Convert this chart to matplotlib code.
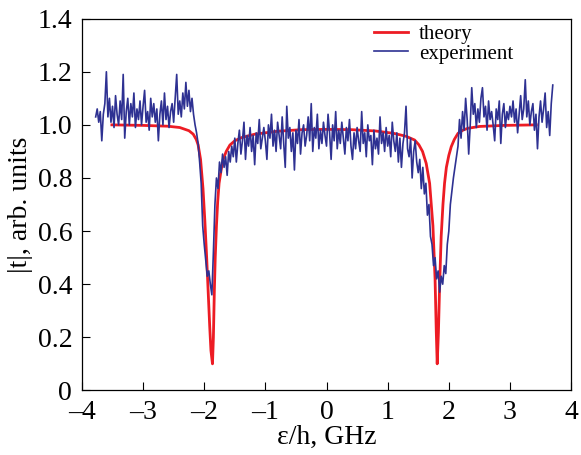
import numpy as np
import matplotlib
matplotlib.use('Agg')
import matplotlib.pyplot as plt

plt.rcParams['font.family'] = ['Liberation Serif', 'DejaVu Serif']

# theory curve
theory_x = [-3.51, -3.0, -2.6, -2.4, -2.25, -2.18, -2.13, -2.10, -2.06, -2.02,
            -1.99, -1.96, -1.935, -1.91, -1.89, -1.865, -1.85, -1.835, -1.82,
            -1.80, -1.78, -1.757, -1.72, -1.69, -1.64, -1.58, -1.5, -1.39,
            -1.17, -0.8, -0.4, 0.0, 0.4, 0.8, 1.1, 1.3, 1.44, 1.51, 1.57,
            1.63, 1.686, 1.74, 1.775, 1.795, 1.81, 1.83, 1.85, 1.875, 1.904,
            1.93, 1.96, 2.0, 2.04, 2.09, 2.15, 2.23, 2.31, 2.5, 2.9, 3.43]
theory_y = [1.0, 0.998, 0.995, 0.99, 0.978, 0.965, 0.945, 0.925, 0.87, 0.76,
            0.64, 0.5, 0.37, 0.24, 0.15, 0.10, 0.2, 0.37, 0.5, 0.62, 0.71,
            0.78, 0.835, 0.87, 0.9, 0.924, 0.94, 0.952, 0.965, 0.976, 0.982,
            0.983, 0.982, 0.977, 0.968, 0.957, 0.943, 0.925, 0.9, 0.855, 0.78,
            0.62, 0.42, 0.22, 0.10, 0.22, 0.4, 0.58, 0.70, 0.78, 0.84, 0.885,
            0.918, 0.945, 0.968, 0.98, 0.987, 0.994, 0.998, 1.0]

# experiment, 300 samples from -3.775 to 3.70 GHz
exp_start, exp_stop = -3.775, 3.70
exp_y = [
    1.03, 1.06, 1.01, 1.05, 0.94, 1.04, 1.08, 1.20, 1.03, 1.10,
    1.01, 1.07, 0.99, 1.11, 1.04, 1.00, 1.09, 1.02, 1.19, 0.95,
    1.05, 1.10, 1.00, 1.08, 1.03, 1.12, 0.99, 1.06, 1.02, 1.09,
    1.00, 1.07, 1.13, 1.01, 1.05, 0.98, 1.10, 1.03, 1.08, 1.01,
    1.06, 0.94, 1.04, 1.09, 1.00, 1.12, 1.02, 1.07, 0.99, 1.05,
    1.08, 1.01, 1.10, 1.19, 1.04, 1.09, 1.03, 1.12, 1.06, 1.16,
    1.07, 1.13, 1.05, 1.10, 1.04, 1.00, 0.97, 0.93, 0.86, 0.78,
    0.62, 0.55, 0.49, 0.43, 0.45, 0.40, 0.36, 0.52, 0.70, 0.80,
    0.76, 0.86, 0.82, 0.89, 0.84, 0.88, 0.81, 0.90, 0.86, 0.92,
    0.88, 0.95, 0.86, 0.93, 0.98, 0.89, 0.94, 1.01, 0.87, 0.96,
    0.92, 0.99, 0.90, 0.96, 0.85, 0.97, 0.93, 1.02, 0.91, 0.95,
    0.99, 0.94, 0.87, 1.00, 0.95, 1.04, 0.92, 0.98, 0.90, 1.01,
    0.96, 0.91, 1.03, 0.93, 0.84, 1.07, 0.95, 0.99, 0.90, 0.97,
    0.83, 0.98, 0.93, 1.02, 0.89, 0.97, 1.00, 0.92, 0.96, 1.03,
    0.94, 1.08, 0.90, 0.99, 0.95, 1.04, 0.91, 0.98, 0.93, 1.01,
    0.96, 0.92, 1.04, 0.97, 0.87, 1.00, 0.94, 1.05, 0.91, 0.98,
    0.93, 1.01, 0.95, 0.89, 0.99, 0.94, 1.02, 0.92, 0.87, 0.97,
    0.91, 0.99, 0.94, 0.90, 1.05, 0.93, 0.97, 0.88, 1.00, 0.94,
    0.96, 0.85, 0.98, 0.91, 0.95, 0.89, 1.03, 0.93, 0.97, 0.90,
    0.99, 0.92, 0.96, 0.88, 1.01, 0.94, 0.90, 0.97, 0.86, 0.95,
    0.84, 0.93, 0.97, 1.07, 0.91, 0.88, 0.95, 0.80, 0.90, 0.94,
    0.86, 0.82, 0.87, 0.76, 0.84, 0.74, 0.78, 0.66, 0.70, 0.58,
    0.55, 0.47, 0.50, 0.42, 0.45, 0.37, 0.43, 0.40, 0.47, 0.44,
    0.55, 0.60, 0.70, 0.75, 0.80, 0.84, 0.88, 0.92, 1.02, 0.95,
    1.05, 0.98, 1.10, 1.02, 0.89, 1.00, 1.14, 1.04, 1.08, 0.99,
    1.06, 1.01, 1.10, 1.14, 1.03, 1.07, 0.98, 1.09, 1.02, 1.05,
    1.00, 0.94, 1.06, 1.02, 1.09, 0.93, 1.04, 1.08, 0.99, 1.05,
    1.02, 1.07, 1.03, 1.09, 1.01, 1.06, 0.97, 1.04, 1.11, 1.02,
    1.06, 1.17, 1.03, 1.09, 1.00, 1.05, 1.08, 0.98, 1.04, 0.91,
    1.03, 1.09, 1.01, 1.06, 1.12, 0.99, 1.05, 0.96, 1.08, 1.15,
]
exp_x = np.linspace(exp_start, exp_stop, len(exp_y))

xticks = [-4, -3, -2, -1, 0, 1, 2, 3, 4]
xticklabels = ['\u20134', '\u20133', '\u20132', '\u20131', '0', '1', '2', '3', '4']
yticks = [0, 0.2, 0.4, 0.6, 0.8, 1.0, 1.2, 1.4]
yticklabels = ['0', '0.2', '0.4', '0.6', '0.8', '1.0', '1.2', '1.4']

fig = plt.figure(figsize=(5.81, 4.55), dpi=100)
ax = fig.add_axes([0.141, 0.142, 0.842, 0.817])

ax.plot(theory_x, theory_y, color='#ED1C24', lw=2.0, label='theory', zorder=2)
ax.plot(exp_x, exp_y, color='#2E3192', lw=1.2, label='experiment', zorder=3)

ax.set_xlim(-4, 4)
ax.set_ylim(0, 1.4)
ax.set_xticks(xticks)
ax.set_xticklabels(xticklabels)
ax.set_yticks(yticks)
ax.set_yticklabels(yticklabels)
ax.tick_params(direction='in', length=6, width=0.8, labelsize=20)
ax.tick_params(axis='y', pad=7)
ax.tick_params(axis='x', pad=7)
for sp in ax.spines.values():
    sp.set_linewidth(0.9)

ax.set_xlabel('\u03b5/h, GHz', fontsize=20, labelpad=0)
ax.set_ylabel('|t|, arb. units', fontsize=20, labelpad=3)

leg = ax.legend(loc='upper left', bbox_to_anchor=(0.597, 0.984), frameon=False,
                fontsize=15, handlelength=1.65, handletextpad=0.5,
                labelspacing=0.0, borderpad=0, borderaxespad=0)

fig.savefig('out.png', dpi=100)
